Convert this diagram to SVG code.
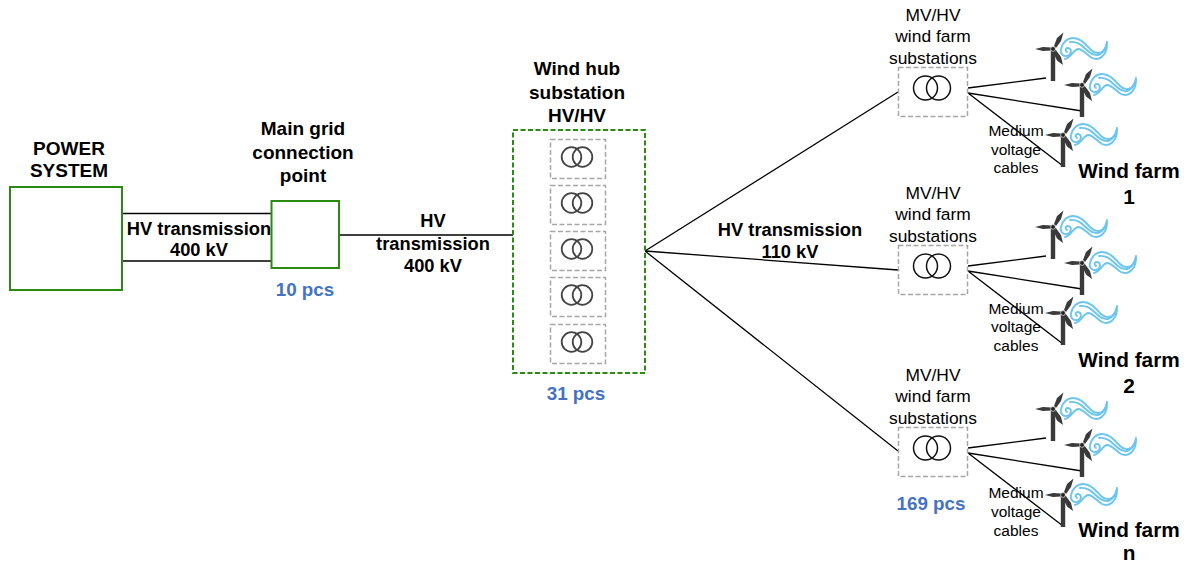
<svg xmlns="http://www.w3.org/2000/svg" width="1189" height="565" viewBox="0 0 1189 565">
<style>
text{font-family:"Liberation Sans",Arial,sans-serif;text-anchor:middle;fill:#000}
.b{font-weight:700;font-size:18.3px}
.h{font-weight:700;font-size:19px}
.w{font-weight:700;font-size:20.800px}
.blue{font-weight:700;font-size:18.800px;fill:#4472c4}
.m{font-size:17.400px}
.s{font-size:15.500px}
.g{fill:#fff;stroke:#2a8a12;stroke-width:2}
.gd{fill:#fff;stroke:#2a8a12;stroke-width:2;stroke-dasharray:5 2.5}
.sub{fill:#fff;stroke:#a6a6a6;stroke-width:1.5;stroke-dasharray:5 2.5}
.line{stroke:#000;stroke-width:1.3;fill:none}
.coil{fill:none;stroke:#444;stroke-width:1.8}
.coil2{fill:none;stroke:#111;stroke-width:1.5}
.wave{fill:none;stroke:#6cc5ef;stroke-width:1.9;stroke-linecap:round}
.dark{fill:#3a3a3a}
</style>
<defs>
<g id="turbine">
<rect class="dark" x="-2.200" y="2" width="4.400" height="30"/>
<path class="dark" d="M-2 -1.500L-10 -2L-18 0L-10 2L-2 1.500ZM1 -3L4 -11L10.500 -16.500L8 -8L3 -1ZM2.500 0.500L8 8L10 16L4 11.500L0 3Z"/>
<circle r="2.400" fill="#222" stroke="#fff" stroke-width=".6"/>
<path class="wave" d="M14 3C11.500 1 12.500 -1 15 -1C19 -1 19 6 14 7C9 8 7 3 8 0C9 -6 14 -11 20 -11C28 -11 33 -4 38 1C43 6 52 6 54 -7"/>
<path class="wave" d="M17 -7C26 -8 30 -2 36 3C42 8 50 8 54 -5"/>
<path class="wave" d="M12 10C18 9 20 1 25 0C30 0 34 6 39 9C46 12 53 7 54 -3"/>
</g>
<g id="xf">
<circle class="coil" cx="-5.500" cy="0" r="9.800"/>
<circle class="coil" cx="5.500" cy="0" r="9.800"/>
</g>
<g id="xf2">
<circle class="coil2" cx="-6.500" cy="0" r="12"/>
<circle class="coil2" cx="6.500" cy="0" r="12"/>
</g>
</defs>
<g id="connectors">
<path class="line" d="M122 213.500H271M122 261H271M339 235H514M645 251L898 92M645 251L898 270M645 251L898 451"/>
<path class="line" d="M968 88L1046 78M968 93L1082 111M968 93L1063 166"/>
<path class="line" d="M968 266L1046 256M968 271L1082 289M968 271L1063 344"/>
<path class="line" d="M968 448L1046 438M968 453L1082 471M968 453L1063 526"/>
</g>
<g id="power-system">
<rect class="g" x="10" y="187" width="112" height="103"/>
<text class="h" x="69" y="155">POWER</text><text class="h" x="69" y="177">SYSTEM</text>
</g>
<g id="hv-label-1"><text class="b" x="199" y="235">HV transmission</text><text class="b" x="199" y="256">400 kV</text></g>
<g id="main-grid">
<rect class="g" x="271.500" y="201" width="67.500" height="67"/>
<text class="h" x="303" y="135">Main grid</text><text class="h" x="303" y="159">connection</text><text class="h" x="303" y="182">point</text>
<text class="blue" x="305" y="296">10 pcs</text>
</g>
<g id="hv-label-2"><text class="b" x="433" y="227">HV</text><text class="b" x="433" y="250">transmission</text><text class="b" x="433" y="272">400 kV</text></g>
<g id="wind-hub">
<rect class="gd" x="513" y="130" width="132" height="243"/>
<text class="h" x="577" y="75">Wind hub</text><text class="h" x="577" y="99">substation</text><text class="h" x="577" y="122">HV/HV</text>
<text class="blue" x="576" y="400">31 pcs</text>
</g>
<g id="hub-transformers">
<rect class="sub" x="550.500" y="139.500" width="55" height="39"/><use href="#xf" x="577" y="157"/>
<rect class="sub" x="550.500" y="185.500" width="55" height="39"/><use href="#xf" x="577" y="203"/>
<rect class="sub" x="550.500" y="231.500" width="55" height="39"/><use href="#xf" x="577" y="249"/>
<rect class="sub" x="550.500" y="277.500" width="55" height="39"/><use href="#xf" x="577" y="295"/>
<rect class="sub" x="550.500" y="324.500" width="55" height="39"/><use href="#xf" x="577" y="342"/>
</g>
<g id="hv-label-3"><text class="b" x="790" y="236">HV transmission</text><text class="b" x="790" y="258">110 kV</text></g>
<g id="farm-1">
<rect class="sub" x="898.500" y="67.500" width="69" height="49"/><use href="#xf2" x="932" y="88"/>
<text class="m" x="933" y="21">MV/HV</text><text class="m" x="933" y="42">wind farm</text><text class="m" x="933" y="64">substations</text>
<use href="#turbine" x="1053" y="49"/><use href="#turbine" x="1082" y="85"/><use href="#turbine" x="1063" y="135"/>
<text class="s" x="1016" y="136">Medium</text><text class="s" x="1016" y="155">voltage</text><text class="s" x="1016" y="173">cables</text>
<text class="w" x="1129" y="178">Wind farm</text><text class="w" x="1129" y="204">1</text>
</g>
<g id="farm-2">
<rect class="sub" x="898.500" y="245.500" width="69" height="49"/><use href="#xf2" x="932" y="266"/>
<text class="m" x="933" y="199">MV/HV</text><text class="m" x="933" y="220">wind farm</text><text class="m" x="933" y="242">substations</text>
<use href="#turbine" x="1053" y="227"/><use href="#turbine" x="1082" y="263"/><use href="#turbine" x="1063" y="313"/>
<text class="s" x="1016" y="314">Medium</text><text class="s" x="1016" y="332">voltage</text><text class="s" x="1016" y="351">cables</text>
<text class="w" x="1129" y="367">Wind farm</text><text class="w" x="1129" y="393">2</text>
</g>
<g id="farm-n">
<rect class="sub" x="898.500" y="427.500" width="69" height="49"/><use href="#xf2" x="932" y="448"/>
<text class="m" x="933" y="381">MV/HV</text><text class="m" x="933" y="402">wind farm</text><text class="m" x="933" y="424">substations</text>
<use href="#turbine" x="1053" y="409"/><use href="#turbine" x="1082" y="445"/><use href="#turbine" x="1063" y="495"/>
<text class="s" x="1016" y="498">Medium</text><text class="s" x="1016" y="517">voltage</text><text class="s" x="1016" y="536">cables</text>
<text class="blue" x="931" y="510">169 pcs</text>
<text class="w" x="1129" y="537">Wind farm</text><text class="w" x="1129" y="560">n</text>
</g>
</svg>
